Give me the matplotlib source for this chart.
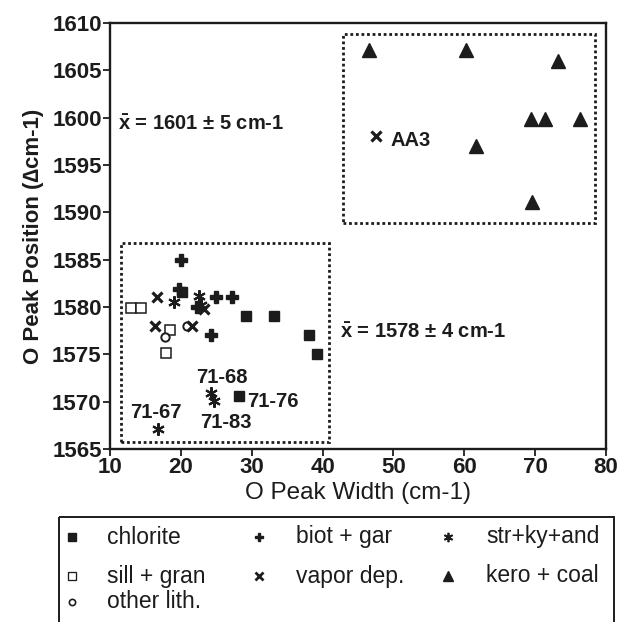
import matplotlib
matplotlib.use("Agg")
import matplotlib.pyplot as plt
from matplotlib.patches import Rectangle

plt.rcParams['font.family'] = ['Liberation Sans', 'DejaVu Sans']
plt.rcParams['mathtext.fontset'] = 'custom'
plt.rcParams['mathtext.rm'] = 'Liberation Sans:bold'
plt.rcParams['mathtext.bf'] = 'Liberation Sans:bold'

# ---- data ----
chlorite_x = [20.1, 29.2, 33.1, 38.1, 39.2, 28.2]
chlorite_y = [1581.6, 1579.1, 1579.1, 1577.0, 1575.0, 1570.6]
biot_x = [20.0, 22.3, 25.0, 27.2, 24.3, 19.8]
biot_y = [1585.0, 1580.0, 1581.1, 1581.1, 1577.0, 1581.9]
str_x = [19.1, 22.5, 22.8, 24.3, 24.7, 16.8]
str_y = [1580.5, 1581.2, 1580.2, 1570.9, 1570.1, 1567.1]
sill_x = [13.0, 14.4, 18.4, 17.9]
sill_y = [1579.9, 1579.9, 1577.6, 1575.1]
other_x = [17.8, 20.8]
other_y = [1576.8, 1578.0]
vapor_x = [16.6, 16.3, 21.6, 23.3, 47.5]
vapor_y = [1581.1, 1578.0, 1578.0, 1579.8, 1598.1]
kero_x = [46.5, 60.3, 73.2, 69.4, 71.4, 76.4, 61.7, 69.5]
kero_y = [1607.1, 1607.1, 1606.0, 1599.9, 1599.9, 1599.9, 1597.0, 1591.1]

categories = ['chlorite', 'biot + gar', 'str+ky+and', 'sill + gran', 'vapor dep.',
              'kero + coal', 'other lith.']

sample_labels = ['71-68', '71-76', '71-83', '71-67', 'AA3']
sample_lx = [25.8, 29.4, 26.3, 16.5, 49.6]
sample_ly = [1572.6, 1570.0, 1567.8, 1568.9, 1597.6]
sample_ha = ['center', 'left', 'center', 'center', 'left']

x_ticks = [10, 20, 30, 40, 50, 60, 70, 80]
y_ticks = [1565, 1570, 1575, 1580, 1585, 1590, 1595, 1600, 1605, 1610]

C = '#1c1c1c'

styles = {
    'chlorite':    dict(marker='s', ms=7, color=C),
    'sill + gran': dict(marker='s', ms=7.5, mfc='white', mec=C, mew=1.1),
    'other lith.': dict(marker='o', ms=6, mfc='white', mec=C, mew=1.4),
    'biot + gar':  dict(marker='P', ms=8, color=C),
    'vapor dep.':  dict(marker='x', ms=7, mew=2.3, color=C),
    'str+ky+and':  dict(marker=(6, 2, 0), ms=9, mew=1.5, color=C),
    'kero + coal': dict(marker='^', ms=10, color=C),
}

fig = plt.figure(figsize=(6.22, 6.22), dpi=100)
ax = fig.add_axes([110/622, 1-449/622, (606-110)/622, (449-23)/622])

series = {
    'chlorite': (chlorite_x, chlorite_y),
    'sill + gran': (sill_x, sill_y),
    'other lith.': (other_x, other_y),
    'biot + gar': (biot_x, biot_y),
    'vapor dep.': (vapor_x, vapor_y),
    'str+ky+and': (str_x, str_y),
    'kero + coal': (kero_x, kero_y),
}
for name, (xs, ys) in series.items():
    ax.plot(xs, ys, ls='none', **styles[name])

for t, x, y, ha in zip(sample_labels, sample_lx, sample_ly, sample_ha):
    ax.text(x, y, t, ha=ha, va='center', fontsize=14.5, fontweight='bold', color=C)

ax.text(11.1, 1599.3, r'$\bar{\mathrm{x}}$ = 1601 ± 5 cm-1', fontsize=14.5, fontweight='bold',
        color=C, va='center', ha='left')
ax.text(42.5, 1577.3, r'$\bar{\mathrm{x}}$ = 1578 ± 4 cm-1', fontsize=14.5, fontweight='bold',
        color=C, va='center', ha='left')

for (x0, y0, x1, y1) in [(11.6, 1565.7, 40.9, 1586.8), (42.9, 1588.9, 78.5, 1608.8)]:
    ax.add_patch(Rectangle((x0, y0), x1 - x0, y1 - y0, fill=False, ec=C,
                           lw=2.0, ls=(0, (1, 1))))

ax.set_xlim(10, 80)
ax.set_ylim(1565, 1610)
ax.set_xticks(x_ticks)
ax.set_yticks(y_ticks)
ax.tick_params(direction='out', length=5, width=1.3, colors=C, labelsize=16, pad=1)
for lab in ax.get_xticklabels() + ax.get_yticklabels():
    lab.set_fontweight('bold')
for s in ax.spines.values():
    s.set_linewidth(1.7)
    s.set_color(C)

ax.set_xlabel('O Peak Width (cm-1)', fontsize=17.5, color=C, labelpad=3)
ax.set_ylabel('O Peak Position (∆cm-1)', fontsize=16, fontweight='bold', color=C, labelpad=6)

# ---- legend box drawn in pixel coordinates of the figure ----
ov = fig.add_axes([0, 0, 1, 1])
ov.set_xlim(0, 622)
ov.set_ylim(622, 0)
ov.axis('off')
ov.add_patch(Rectangle((59, 517), 614 - 59, 140, fill=False, ec=C, lw=1.4, clip_on=False))
leg_mx = [72, 259, 448]
leg_tx = [107, 296, 486]
leg_ry = [537, 576, 602]
leg_pos = [(0, 0), (1, 0), (2, 0), (0, 1), (1, 1), (2, 1), (0, 2)]
leg_ms_scale = 0.75
for name, (ci, ri) in zip(categories, leg_pos):
    st = dict(styles[name])
    st['ms'] = st['ms'] * leg_ms_scale
    if 'mew' in st:
        st['mew'] = st['mew'] * 0.85
    ov.plot([leg_mx[ci]], [leg_ry[ri]], ls='none', **st)
    ov.text(leg_tx[ci], leg_ry[ri], name, fontsize=16.5, color=C, va='center', ha='left')

fig.savefig('out.png', dpi=100)
